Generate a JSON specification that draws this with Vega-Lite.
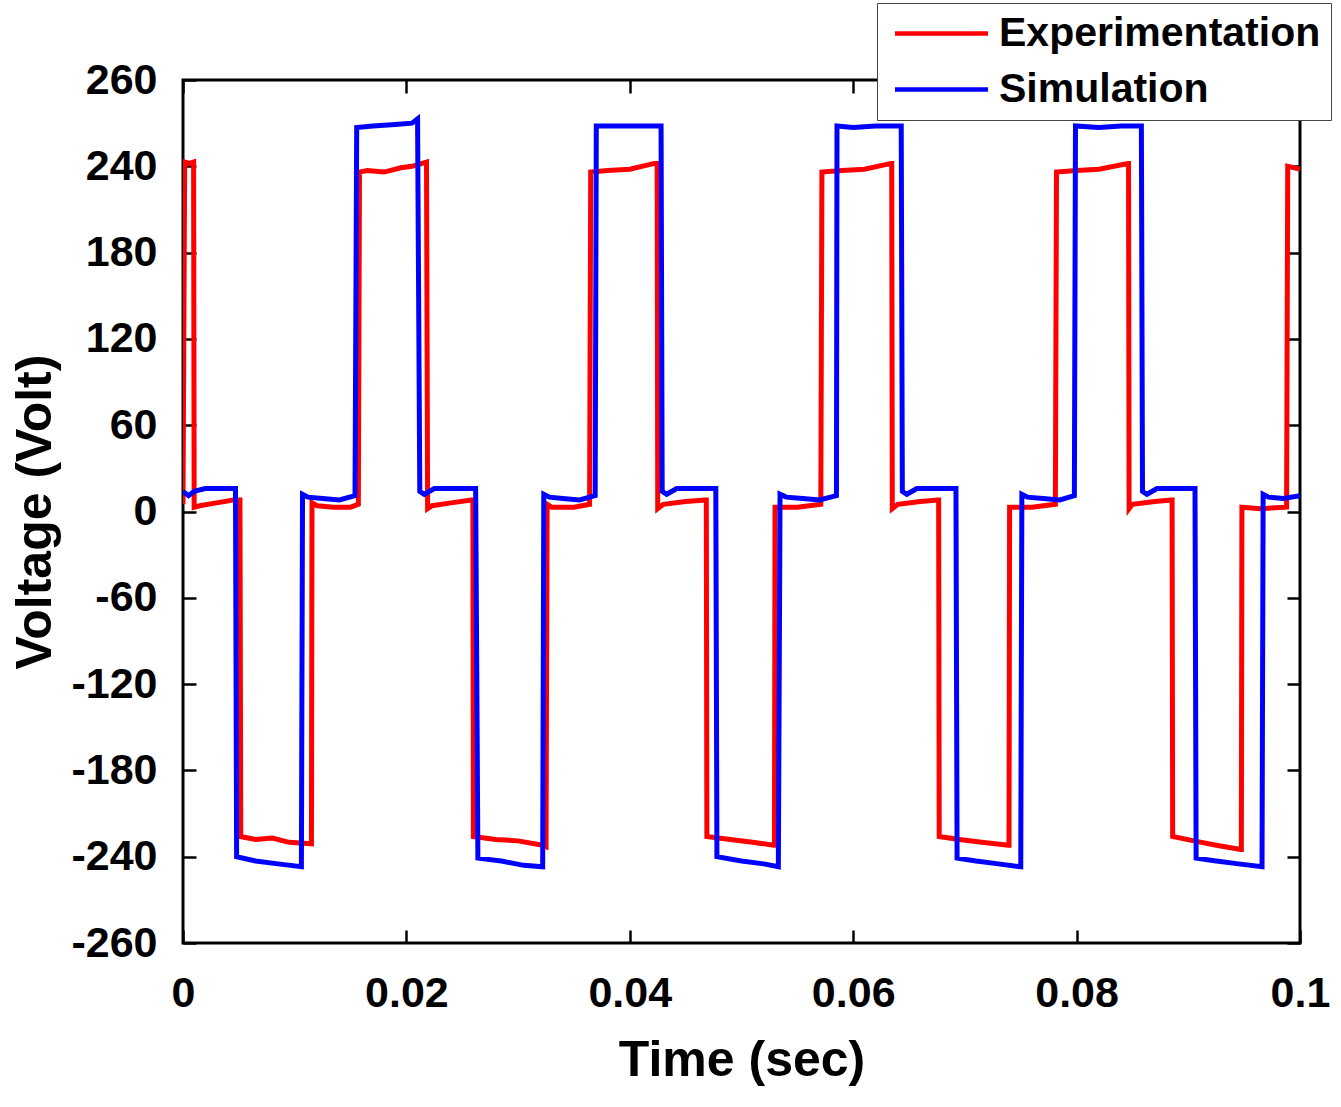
{
  "$schema": "https://vega.github.io/schema/vega-lite/v6.json",
  "width": 1117,
  "height": 863,
  "autosize": {"type": "none"},
  "padding": {"left": 183, "top": 80, "right": 41, "bottom": 164},
  "config": {
    "font": "Liberation Sans",
    "view": {"stroke": "#000000", "strokeWidth": 3},
    "axis": {
      "grid": false,
      "domain": false,
      "labelFont": "Liberation Sans",
      "labelFontSize": 43,
      "labelFontWeight": "bold",
      "labelColor": "#000000",
      "titleFont": "Liberation Sans",
      "titleFontSize": 50,
      "titleFontWeight": "bold",
      "titleColor": "#000000",
      "tickColor": "#000000",
      "tickWidth": 2.5
    }
  },
  "data": {
    "values": [
      {"s": "Experimentation", "t": 0, "v": 5},
      {"s": "Experimentation", "t": 0.00015, "v": 243},
      {"s": "Experimentation", "t": 0.0006, "v": 242},
      {"s": "Experimentation", "t": 0.00095, "v": 243},
      {"s": "Experimentation", "t": 0.001, "v": 3},
      {"s": "Experimentation", "t": 0.0015, "v": 4},
      {"s": "Experimentation", "t": 0.003, "v": 6},
      {"s": "Experimentation", "t": 0.0045, "v": 8},
      {"s": "Experimentation", "t": 0.0051, "v": 8},
      {"s": "Experimentation", "t": 0.00517, "v": -226},
      {"s": "Experimentation", "t": 0.0065, "v": -228},
      {"s": "Experimentation", "t": 0.008, "v": -227},
      {"s": "Experimentation", "t": 0.0095, "v": -230},
      {"s": "Experimentation", "t": 0.0115, "v": -231},
      {"s": "Experimentation", "t": 0.01155, "v": 6},
      {"s": "Experimentation", "t": 0.012, "v": 4},
      {"s": "Experimentation", "t": 0.0135, "v": 3},
      {"s": "Experimentation", "t": 0.015, "v": 3},
      {"s": "Experimentation", "t": 0.0157, "v": 5},
      {"s": "Experimentation", "t": 0.0158, "v": 236},
      {"s": "Experimentation", "t": 0.0165, "v": 237},
      {"s": "Experimentation", "t": 0.018, "v": 236},
      {"s": "Experimentation", "t": 0.0195, "v": 239},
      {"s": "Experimentation", "t": 0.0205, "v": 240},
      {"s": "Experimentation", "t": 0.0218, "v": 243},
      {"s": "Experimentation", "t": 0.0219, "v": 2},
      {"s": "Experimentation", "t": 0.0223, "v": 4},
      {"s": "Experimentation", "t": 0.024, "v": 6},
      {"s": "Experimentation", "t": 0.0258, "v": 8},
      {"s": "Experimentation", "t": 0.02595, "v": 8},
      {"s": "Experimentation", "t": 0.026, "v": -226},
      {"s": "Experimentation", "t": 0.028, "v": -228},
      {"s": "Experimentation", "t": 0.03, "v": -229},
      {"s": "Experimentation", "t": 0.0322, "v": -232},
      {"s": "Experimentation", "t": 0.0325, "v": -233},
      {"s": "Experimentation", "t": 0.0326, "v": 5},
      {"s": "Experimentation", "t": 0.033, "v": 3},
      {"s": "Experimentation", "t": 0.035, "v": 3},
      {"s": "Experimentation", "t": 0.0364, "v": 5},
      {"s": "Experimentation", "t": 0.0365, "v": 236},
      {"s": "Experimentation", "t": 0.038, "v": 237},
      {"s": "Experimentation", "t": 0.04, "v": 238},
      {"s": "Experimentation", "t": 0.0422, "v": 242},
      {"s": "Experimentation", "t": 0.04245, "v": 242},
      {"s": "Experimentation", "t": 0.0425, "v": 2},
      {"s": "Experimentation", "t": 0.043, "v": 5},
      {"s": "Experimentation", "t": 0.045, "v": 7},
      {"s": "Experimentation", "t": 0.0468, "v": 8},
      {"s": "Experimentation", "t": 0.04685, "v": 8},
      {"s": "Experimentation", "t": 0.0469, "v": -226},
      {"s": "Experimentation", "t": 0.049, "v": -228},
      {"s": "Experimentation", "t": 0.051, "v": -230},
      {"s": "Experimentation", "t": 0.0529, "v": -232},
      {"s": "Experimentation", "t": 0.05295, "v": -232},
      {"s": "Experimentation", "t": 0.053, "v": 3},
      {"s": "Experimentation", "t": 0.055, "v": 3},
      {"s": "Experimentation", "t": 0.0571, "v": 5},
      {"s": "Experimentation", "t": 0.0572, "v": 236},
      {"s": "Experimentation", "t": 0.059, "v": 237},
      {"s": "Experimentation", "t": 0.061, "v": 238},
      {"s": "Experimentation", "t": 0.0634, "v": 242},
      {"s": "Experimentation", "t": 0.06345, "v": 242},
      {"s": "Experimentation", "t": 0.0635, "v": 2},
      {"s": "Experimentation", "t": 0.064, "v": 5},
      {"s": "Experimentation", "t": 0.066, "v": 7},
      {"s": "Experimentation", "t": 0.0676, "v": 8},
      {"s": "Experimentation", "t": 0.06765, "v": 8},
      {"s": "Experimentation", "t": 0.0677, "v": -226},
      {"s": "Experimentation", "t": 0.0695, "v": -228},
      {"s": "Experimentation", "t": 0.0715, "v": -230},
      {"s": "Experimentation", "t": 0.0739, "v": -232},
      {"s": "Experimentation", "t": 0.07395, "v": -232},
      {"s": "Experimentation", "t": 0.074, "v": 3},
      {"s": "Experimentation", "t": 0.076, "v": 3},
      {"s": "Experimentation", "t": 0.0781, "v": 5},
      {"s": "Experimentation", "t": 0.0782, "v": 236},
      {"s": "Experimentation", "t": 0.08, "v": 237},
      {"s": "Experimentation", "t": 0.082, "v": 238},
      {"s": "Experimentation", "t": 0.0846, "v": 242},
      {"s": "Experimentation", "t": 0.08465, "v": 242},
      {"s": "Experimentation", "t": 0.0847, "v": 2},
      {"s": "Experimentation", "t": 0.085, "v": 5},
      {"s": "Experimentation", "t": 0.087, "v": 7},
      {"s": "Experimentation", "t": 0.0885, "v": 8},
      {"s": "Experimentation", "t": 0.08855, "v": 8},
      {"s": "Experimentation", "t": 0.0886, "v": -226},
      {"s": "Experimentation", "t": 0.0905, "v": -229},
      {"s": "Experimentation", "t": 0.0925, "v": -232},
      {"s": "Experimentation", "t": 0.0947, "v": -235},
      {"s": "Experimentation", "t": 0.09475, "v": -235},
      {"s": "Experimentation", "t": 0.0948, "v": 3},
      {"s": "Experimentation", "t": 0.0965, "v": 2},
      {"s": "Experimentation", "t": 0.0988, "v": 3},
      {"s": "Experimentation", "t": 0.0989, "v": 240},
      {"s": "Experimentation", "t": 0.1, "v": 238},
      {"s": "Simulation", "t": 0, "v": 14},
      {"s": "Simulation", "t": 0.0005, "v": 11},
      {"s": "Simulation", "t": 0.001, "v": 14},
      {"s": "Simulation", "t": 0.002, "v": 16},
      {"s": "Simulation", "t": 0.0035, "v": 16},
      {"s": "Simulation", "t": 0.0047, "v": 16},
      {"s": "Simulation", "t": 0.0048, "v": -240},
      {"s": "Simulation", "t": 0.0065, "v": -243},
      {"s": "Simulation", "t": 0.0085, "v": -245},
      {"s": "Simulation", "t": 0.0106, "v": -247},
      {"s": "Simulation", "t": 0.0107, "v": 12},
      {"s": "Simulation", "t": 0.0112, "v": 10},
      {"s": "Simulation", "t": 0.0125, "v": 9},
      {"s": "Simulation", "t": 0.014, "v": 8},
      {"s": "Simulation", "t": 0.0154, "v": 11},
      {"s": "Simulation", "t": 0.01555, "v": 267},
      {"s": "Simulation", "t": 0.017, "v": 268},
      {"s": "Simulation", "t": 0.019, "v": 269},
      {"s": "Simulation", "t": 0.0205, "v": 270},
      {"s": "Simulation", "t": 0.021, "v": 273},
      {"s": "Simulation", "t": 0.0212, "v": 14},
      {"s": "Simulation", "t": 0.0216, "v": 12},
      {"s": "Simulation", "t": 0.0225, "v": 16},
      {"s": "Simulation", "t": 0.0262, "v": 16},
      {"s": "Simulation", "t": 0.0264, "v": -241},
      {"s": "Simulation", "t": 0.0285, "v": -243},
      {"s": "Simulation", "t": 0.0305, "v": -246},
      {"s": "Simulation", "t": 0.0322, "v": -247},
      {"s": "Simulation", "t": 0.0323, "v": 12},
      {"s": "Simulation", "t": 0.0328, "v": 10},
      {"s": "Simulation", "t": 0.034, "v": 9},
      {"s": "Simulation", "t": 0.0355, "v": 8},
      {"s": "Simulation", "t": 0.0369, "v": 11},
      {"s": "Simulation", "t": 0.037, "v": 268},
      {"s": "Simulation", "t": 0.039, "v": 268},
      {"s": "Simulation", "t": 0.041, "v": 268},
      {"s": "Simulation", "t": 0.0428, "v": 268},
      {"s": "Simulation", "t": 0.0429, "v": 14},
      {"s": "Simulation", "t": 0.0433, "v": 12},
      {"s": "Simulation", "t": 0.0442, "v": 16},
      {"s": "Simulation", "t": 0.0477, "v": 16},
      {"s": "Simulation", "t": 0.0478, "v": -240},
      {"s": "Simulation", "t": 0.05, "v": -243},
      {"s": "Simulation", "t": 0.052, "v": -245},
      {"s": "Simulation", "t": 0.0533, "v": -247},
      {"s": "Simulation", "t": 0.05345, "v": 12},
      {"s": "Simulation", "t": 0.054, "v": 10},
      {"s": "Simulation", "t": 0.0555, "v": 9},
      {"s": "Simulation", "t": 0.057, "v": 8},
      {"s": "Simulation", "t": 0.0585, "v": 11},
      {"s": "Simulation", "t": 0.05855, "v": 268},
      {"s": "Simulation", "t": 0.06, "v": 267},
      {"s": "Simulation", "t": 0.062, "v": 268},
      {"s": "Simulation", "t": 0.0643, "v": 268},
      {"s": "Simulation", "t": 0.0644, "v": 14},
      {"s": "Simulation", "t": 0.0648, "v": 12},
      {"s": "Simulation", "t": 0.0657, "v": 16},
      {"s": "Simulation", "t": 0.0692, "v": 16},
      {"s": "Simulation", "t": 0.0693, "v": -241},
      {"s": "Simulation", "t": 0.071, "v": -243},
      {"s": "Simulation", "t": 0.073, "v": -245},
      {"s": "Simulation", "t": 0.075, "v": -247},
      {"s": "Simulation", "t": 0.0751, "v": 12},
      {"s": "Simulation", "t": 0.0756, "v": 10},
      {"s": "Simulation", "t": 0.077, "v": 9},
      {"s": "Simulation", "t": 0.0785, "v": 8},
      {"s": "Simulation", "t": 0.0798, "v": 11},
      {"s": "Simulation", "t": 0.0799, "v": 268},
      {"s": "Simulation", "t": 0.082, "v": 267},
      {"s": "Simulation", "t": 0.084, "v": 268},
      {"s": "Simulation", "t": 0.0858, "v": 268},
      {"s": "Simulation", "t": 0.0859, "v": 14},
      {"s": "Simulation", "t": 0.0863, "v": 12},
      {"s": "Simulation", "t": 0.0872, "v": 16},
      {"s": "Simulation", "t": 0.0906, "v": 16},
      {"s": "Simulation", "t": 0.0907, "v": -241},
      {"s": "Simulation", "t": 0.0925, "v": -243},
      {"s": "Simulation", "t": 0.0945, "v": -245},
      {"s": "Simulation", "t": 0.0966, "v": -247},
      {"s": "Simulation", "t": 0.0967, "v": 12},
      {"s": "Simulation", "t": 0.0972, "v": 10},
      {"s": "Simulation", "t": 0.0985, "v": 9},
      {"s": "Simulation", "t": 0.1, "v": 11}
    ]
  },
  "layer": [
    {
      "mark": {"type": "line", "strokeWidth": 5, "clip": true},
      "encoding": {
        "x": {
          "field": "t",
          "type": "quantitative",
          "scale": {"domain": [0, 0.1], "nice": false},
          "axis": {
            "orient": "bottom",
            "values": [0, 0.02, 0.04, 0.06, 0.08, 0.1],
            "labelExpr": "format(datum.value, '.2~f')",
            "ticks": false,
            "labelPadding": 29,
            "labelFlush": false,
            "title": "Time (sec)",
            "titlePadding": 20
          }
        },
        "y": {
          "field": "v",
          "type": "quantitative",
          "scale": {"domain": [-300, 300], "nice": false},
          "axis": {
            "orient": "left",
            "values": [-300, -240, -180, -120, -60, 0, 60, 120, 180, 240, 300],
            "labelExpr": "datum.value == 300 ? '260' : datum.value == -300 ? '-260' : '' + datum.value",
            "ticks": false,
            "labelPadding": 26,
            "labelFlush": false,
            "title": "Voltage (Volt)",
            "titlePadding": 10
          }
        },
        "color": {
          "field": "s",
          "type": "nominal",
          "scale": {"domain": ["Experimentation", "Simulation"], "range": ["#ff0000", "#0000ff"]},
          "legend": {
            "title": null,
            "orient": "none",
            "legendX": 694,
            "legendY": -77,
            "fillColor": "#ffffff",
            "strokeColor": "#444444",
            "padding": 10,
            "rowPadding": 14,
            "symbolType": "M-3,0H3",
            "symbolSize": 961,
            "symbolStrokeWidth": 4.5,
            "symbolOffset": 34,
            "labelOffset": 37,
            "labelFont": "Liberation Sans",
            "labelFontSize": 41,
            "labelFontWeight": "bold",
            "labelColor": "#000000",
            "labelLimit": 0
          }
        }
      }
    },
    {
      "mark": {"type": "line", "opacity": 0},
      "encoding": {
        "x": {
          "field": "t",
          "type": "quantitative",
          "axis": {"orient": "bottom", "values": [0, 0.02, 0.04, 0.06, 0.08, 0.1], "labels": false, "tickSize": -13, "title": null}
        },
        "y": {
          "field": "v",
          "type": "quantitative",
          "axis": {"orient": "left", "values": [-300, -240, -180, -120, -60, 0, 60, 120, 180, 240, 300], "labels": false, "tickSize": -13, "title": null}
        }
      }
    },
    {
      "mark": {"type": "line", "opacity": 0},
      "encoding": {
        "x": {
          "field": "t",
          "type": "quantitative",
          "axis": {"orient": "top", "values": [0, 0.02, 0.04, 0.06, 0.08, 0.1], "labels": false, "tickSize": -13, "title": null}
        },
        "y": {
          "field": "v",
          "type": "quantitative",
          "axis": {"orient": "right", "values": [-300, -240, -180, -120, -60, 0, 60, 120, 180, 240, 300], "labels": false, "tickSize": -13, "title": null}
        }
      }
    }
  ],
  "resolve": {"axis": {"x": "independent", "y": "independent"}}
}
